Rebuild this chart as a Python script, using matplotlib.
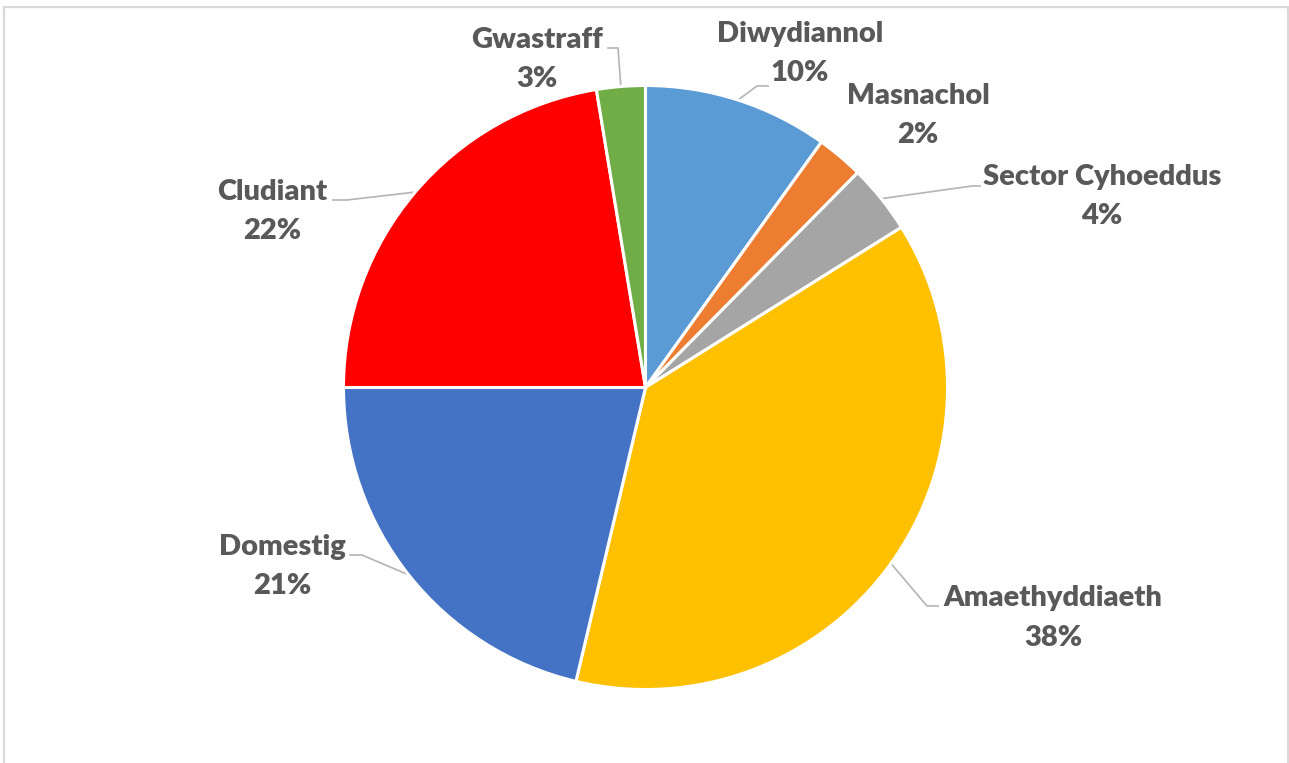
"""Pie chart of emissions share by sector (Welsh labels), Excel-style callouts."""

import matplotlib.pyplot as plt
import numpy as np
from matplotlib.patches import Rectangle

W, H = 1289, 763

SECTORS = [
    "Diwydiannol",
    "Masnachol",
    "Sector Cyhoeddus",
    "Amaethyddiaeth",
    "Domestig",
    "Cludiant",
    "Gwastraff",
]
SHARES = [9.9, 2.5, 3.7, 37.6, 21.3, 22.4, 2.6]
COLORS = ["#5B9BD5", "#ED7D31", "#A5A5A5", "#FFC000", "#4472C4", "#FF0000", "#70AD47"]

# label layout in pixel coords (x centre, name baseline, pct baseline)
LABEL_POS = {
    "Diwydiannol": (800, 42, 81),
    "Masnachol": (918, 104, 143),
    "Sector Cyhoeddus": (1102, 185, 224),
    "Amaethyddiaeth": (1053, 606, 646),
    "Domestig": (282, 555, 594),
    "Cludiant": (272, 200, 239),
    "Gwastraff": (537, 48, 87),
}
# leader lines: elbow and end point (pixels); None = no leader
LEADERS = {
    "Diwydiannol": ((757, 86), (768, 86)),
    "Masnachol": None,
    "Sector Cyhoeddus": ((972, 186), (980, 186)),
    "Amaethyddiaeth": ((927, 606), (938, 606)),
    "Domestig": ((362, 555), (350, 555)),
    "Cludiant": ((347, 200), (333, 200)),
    "Gwastraff": ((618, 48), (608, 48)),
}

CX, CY, R = 645.5, 387.5, 302
TEXT_COLOR = "#595959"
LEADER_COLOR = "#B4B4B4"
FONT = dict(fontsize=21, fontweight="heavy", family="Lato", color=TEXT_COLOR)


def py(y):
    return H - y


fig = plt.figure(figsize=(W / 100, H / 100), dpi=100)
ax = fig.add_axes([0, 0, 1, 1])

wedges, _ = ax.pie(
    SHARES,
    colors=COLORS,
    startangle=90,
    counterclock=False,
    center=(CX, py(CY)),
    radius=R,
    wedgeprops=dict(edgecolor="white", linewidth=2.2),
)
ax.set_xlim(0, W)
ax.set_ylim(0, H)
ax.set_aspect("equal")
ax.axis("off")

total = sum(SHARES)
for w, name, share in zip(wedges, SECTORS, SHARES):
    x, yb_name, yb_pct = LABEL_POS[name]
    ax.text(x, py(yb_name), name, ha="center", va="baseline", **FONT)
    ax.text(x, py(yb_pct), f"{share / total * 100:.0f}%", ha="center", va="baseline", **FONT)
    leader = LEADERS[name]
    if leader is None:
        continue
    mid = np.deg2rad((w.theta1 + w.theta2) / 2)
    sx = CX + R * np.cos(mid)
    sy = py(CY) + R * np.sin(mid)
    (ex, ey), (tx, ty) = leader
    ax.plot([sx, ex, tx], [sy, py(ey), py(ty)], color=LEADER_COLOR, lw=1.2,
            solid_joinstyle="miter", zorder=0.5)

# chart area frame (bottom edge sits below the image)
fig.patches.append(Rectangle((3.5 / W, -0.05), (1288 - 3.5) / W, 1.05 - 7 / H,
                             transform=fig.transFigure, fill=False,
                             edgecolor="#D9D9D9", linewidth=1.6))

fig.savefig("out.png", dpi=100, facecolor="white")
